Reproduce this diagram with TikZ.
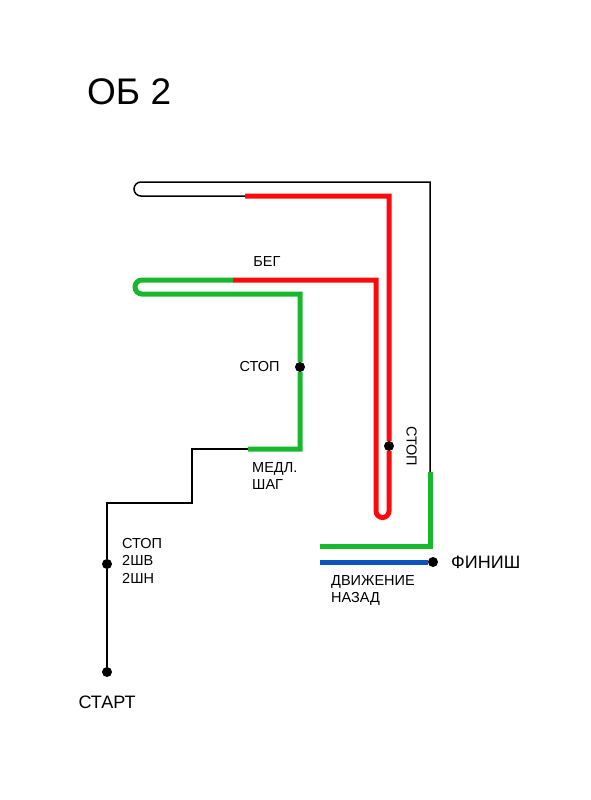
\documentclass[tikz,border=0pt]{standalone}
\usepackage{fontspec}
\setmainfont{Liberation Sans}
\usepackage{tikz}
\usetikzlibrary{positioning}
\definecolor{runred}{RGB}{250,10,10}
\definecolor{walkgreen}{RGB}{24,184,44}
\definecolor{backblue}{RGB}{10,84,190}

\begin{document}
\begin{tikzpicture}[x=1pt,y=-1pt,line join=miter,
  track/.style={line width=1.5pt,black},
  band/.style={line width=5pt},
  dot/.style={circle,fill=black,inner sep=0pt,minimum size=10pt},
  lbl/.style={font=\fontsize{14.5}{17.5}\selectfont,inner sep=0pt,align=left},
  big/.style={font=\fontsize{18}{22}\selectfont,inner sep=0pt}]
\useasboundingbox (0,0) rectangle (590,800);
% title
\node[font=\fontsize{37}{40}\selectfont,inner sep=0pt,anchor=west] (title) at (87,92) {ОБ 2};
% key points
\node[dot] (start) at (107,672) {};
\node[dot] (stop1) at (107,564) {};
\node[dot] (stop2) at (300,367) {};
\node[dot] (stop3) at (389,446) {};
\node[dot] (finish) at (433,562) {};
\coordinate (slowA) at (248,449);
\coordinate (runA) at (233,280);
\coordinate (runB) at (245,196);
\coordinate (turnA) at (430,472);
\coordinate (backA) at (320,546);
\coordinate (backB) at (320,562);
% black track
\draw[track] (start) -- (stop1) -- (107,503) -- (192,503) -- (192,449) -- (slowA);
\draw[track] (runB) -- (141,196) arc[start angle=90,end angle=270,radius=7] -- (430,182) -- (turnA);
% green parts
\draw[band,walkgreen] (slowA) -- (300,449) -- (stop2) -- (300,294) -- (142,294)
  arc[start angle=90,end angle=270,radius=7] -- (runA);
\draw[band,walkgreen] (turnA) -- (430,546) -- (backA);
% red run
\draw[band,runred] (runA) -- (376,280) -- (376,511)
  arc[start angle=180,end angle=0,radius=6.5] -- (stop3) -- (389,196) -- (runB);
% blue back
\draw[band,backblue] (backB) -- (finish);
% labels
\node[lbl,anchor=south] (run) at (267,267) {БЕГ};
\node[lbl,left=15pt of stop2] (stop2t) {СТОП};
\node[lbl,rotate=-90,right=12pt of stop3,anchor=south] (stop3t) {СТОП};
\node[lbl,anchor=north west] (slow) at (252,462) {МЕДЛ.\\ШАГ};
\node[lbl,anchor=north west] (stop1t) at (122,538) {СТОП\\2ШВ\\2ШН};
\node[lbl,anchor=north west] (back) at (331,575) {ДВИЖЕНИЕ\\НАЗАД};
\node[big,anchor=west] (finisht) at (451,562) {ФИНИШ};
\node[big] (startt) at (107,702) {СТАРТ};
\end{tikzpicture}
\end{document}
